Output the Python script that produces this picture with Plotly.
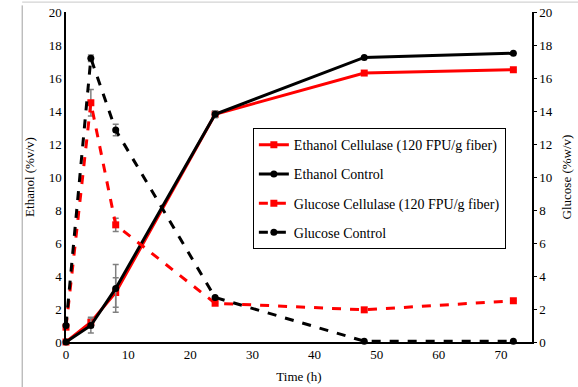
import plotly.graph_objects as go

time_h = [0, 4, 8, 24, 48, 72]

ethanol_cellulase = [0.0, 1.2, 3.0, 13.8, 16.3, 16.5]
ethanol_cellulase_err = [0.0, 0.3, 0.9, 0.2, 0.0, 0.0]
ethanol_control = [0.0, 1.0, 3.25, 13.8, 17.25, 17.5]
ethanol_control_err = [0.0, 0.45, 1.45, 0.2, 0.0, 0.0]

glucose_cellulase = [0.9, 14.5, 7.1, 2.35, 1.95, 2.5]
glucose_cellulase_err = [0.0, 0.8, 0.4, 0.0, 0.0, 0.0]
glucose_control = [1.0, 17.2, 12.85, 2.7, 0.05, 0.05]
glucose_control_err = [0.0, 0.2, 0.35, 0.0, 0.0, 0.0]

x_ticks = [0, 10, 20, 30, 40, 50, 60, 70]
y_ticks = [0, 2, 4, 6, 8, 10, 12, 14, 16, 18, 20]

FONT = "Liberation Serif, Times New Roman, Times, serif"
RED = "#ff0000"
BLACK = "#000000"
ERR = dict(type="data", visible=True, color="#808080", thickness=1.5, width=3)

fig = go.Figure()

def add(name, y, err, color, dash, symbol, axis, group):
    fig.add_trace(go.Scatter(
        x=time_h, y=y, name=name, mode="lines+markers",
        line=dict(color=color, width=3, dash=dash),
        marker=dict(color=color, symbol=symbol, size=7),
        error_y=dict(array=err, **ERR),
        yaxis=axis, legendgroup=group, cliponaxis=False,
    ))

add("Ethanol Cellulase (120 FPU/g fiber)", ethanol_cellulase, ethanol_cellulase_err, RED, "solid", "square", "y", "g1")
add("Ethanol Control", ethanol_control, ethanol_control_err, BLACK, "solid", "circle", "y", "g2")
add("Glucose Cellulase (120 FPU/g fiber)", glucose_cellulase, glucose_cellulase_err, RED, "dash", "square", "y2", "g3")
add("Glucose Control", glucose_control, glucose_control_err, BLACK, "dash", "circle", "y2", "g4")

fig.update_layout(
    width=578, height=387,
    margin=dict(l=66, r=46, t=12, b=45, autoexpand=False),
    paper_bgcolor="white", plot_bgcolor="white",
    font=dict(family=FONT, size=13, color="black"),
    showlegend=True,
    legend=dict(
        x=0.401, y=0.648, xanchor="left", yanchor="top",
        bordercolor="black", borderwidth=1, bgcolor="white",
        font=dict(family=FONT, size=14, color="black"),
        traceorder="grouped", tracegroupgap=8,
    ),
    xaxis=dict(
        range=[0, 75], tickvals=x_ticks, ticks="", showgrid=False, zeroline=False,
        showline=True, linecolor="black", linewidth=1.5, automargin=False,
        title=dict(text="Time (h)", font=dict(family=FONT, size=13), standoff=11),
        tickfont=dict(family=FONT, size=13),
    ),
    yaxis=dict(
        range=[0, 20], tickvals=y_ticks, ticks="", showgrid=False, zeroline=False,
        showline=True, linecolor="black", linewidth=1.5, automargin=False,
        title=dict(text="Ethanol (%v/v)", font=dict(family=FONT, size=13), standoff=11),
        tickfont=dict(family=FONT, size=13),
    ),
    yaxis2=dict(
        range=[0, 20], tickvals=y_ticks, overlaying="y", side="right",
        ticks="outside", ticklen=3, tickcolor="black", showgrid=False, zeroline=False,
        showline=True, linecolor="black", linewidth=1.5, automargin=False,
        title=dict(text="Glucose (%w/v)", font=dict(family=FONT, size=13), standoff=10),
        tickfont=dict(family=FONT, size=13),
    ),
    shapes=[
        dict(type="line", xref="paper", yref="paper", x0=-0.094, x1=1.1, y0=1.03, y1=1.03,
             line=dict(color="#c8c8c8", width=1)),
        dict(type="line", xref="paper", yref="paper", x0=-0.094, x1=-0.094, y0=1.02, y1=-0.2,
             line=dict(color="#a0a0a0", width=1)),
    ],
)

fig.write_html("out.html", config={"displayModeBar": False},
               post_script="document.body.style.margin='0';")
